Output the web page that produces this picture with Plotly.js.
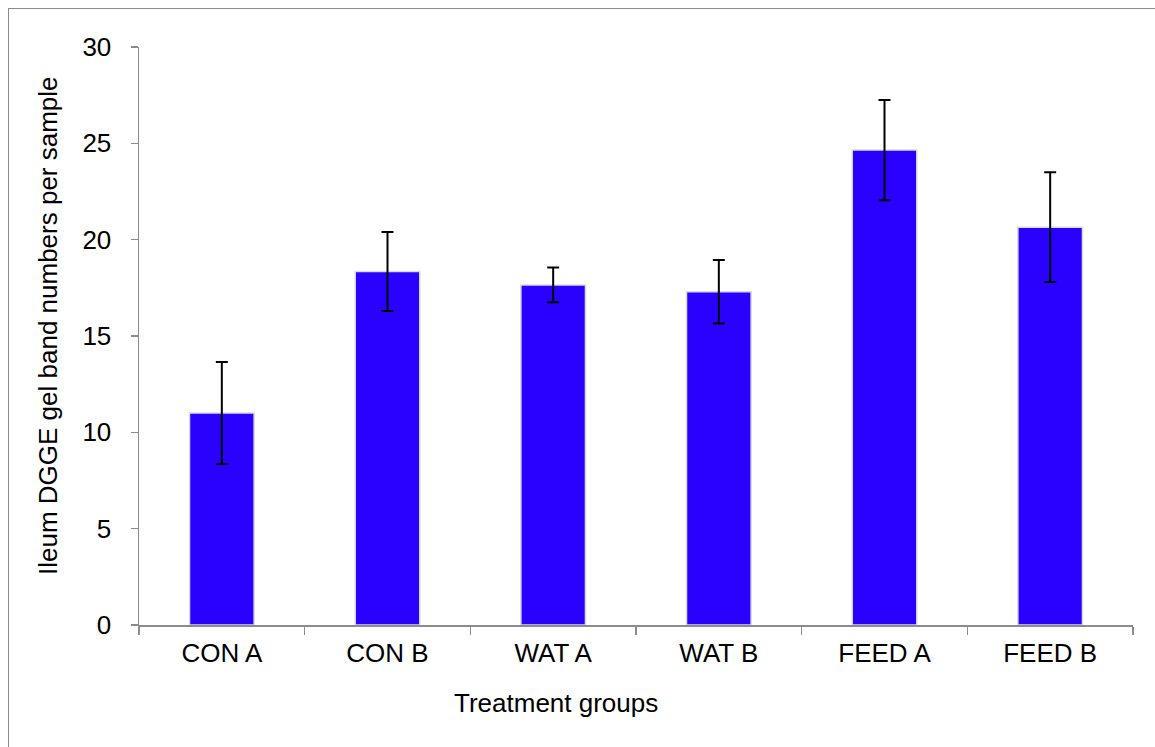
<!DOCTYPE html>
<html>
<head>
<meta charset="utf-8">
<script src="https://cdn.plot.ly/plotly-3.0.1.min.js"></script>
<style>
html,body{margin:0;padding:0;background:#fff;overflow:hidden;}
#wrap{position:relative;width:1155px;height:747px;}
#chart{width:1155px;height:747px;}
#frame{position:absolute;left:8px;top:8px;width:1160px;height:760px;border:1px solid #8c8c8c;pointer-events:none;}
</style>
</head>
<body>
<div id="wrap"><div id="chart"></div><div id="frame"></div></div>
<script>
const categories = ["CON A", "CON B", "WAT A", "WAT B", "FEED A", "FEED B"];
const bandNumbers = [11.0, 18.35, 17.65, 17.3, 24.65, 20.65];
const errorValues = [2.65, 2.05, 0.9, 1.65, 2.6, 2.85];
const yTickVals = [0, 5, 10, 15, 20, 25, 30];
const xTitle = "Treatment groups";
const yTitle = "Ileum DGGE gel band numbers per sample";

const font = "Liberation Sans, Arial, sans-serif";
const fs = 26;
const trace = {
  type: "bar",
  x: categories,
  y: bandNumbers,
  width: 0.39,
  marker: {color: "#2a00ff", line: {color: "#dcdcdc", width: 1.5}},
  error_y: {type: "data", array: errorValues, visible: true, color: "#000", thickness: 2, width: 6},
  hoverinfo: "x+y"
};
const layout = {
  width: 1155, height: 747,
  margin: {l: 139, r: 22, t: 47, b: 122},
  paper_bgcolor: "#fff", plot_bgcolor: "#fff",
  showlegend: false,
  font: {family: font, size: fs, color: "#000"},
  bargap: 0.61,
  xaxis: {
    type: "category",
    tickson: "boundaries",
    ticks: "outside", ticklen: 8, tickwidth: 1.5, tickcolor: "#8c8c8c",
    showline: true, linecolor: "#8c8c8c", linewidth: 1.5,
    showgrid: false, zeroline: false,
    tickfont: {family: font, size: fs, color: "#000"},
    ticklabelstandoff: 4
  },
  yaxis: {
    range: [0, 30],
    tickvals: yTickVals,
    ticktext: yTickVals.map(String),
    ticks: "outside", ticklen: 7, tickwidth: 1.5, tickcolor: "#8c8c8c",
    showline: true, linecolor: "#8c8c8c", linewidth: 1.5,
    showgrid: false, zeroline: false,
    tickfont: {family: font, size: fs, color: "#000"},
    ticklabelstandoff: 14
  },
  annotations: [
    {text: xTitle, xref: "paper", yref: "paper", x: (556 - 139) / 994, y: -78 / 578, xanchor: "center", yanchor: "middle", showarrow: false, font: {family: font, size: fs, color: "#000"}},
    {text: yTitle, xref: "paper", yref: "paper", x: -91 / 994, y: (625 - 326) / 578, xanchor: "center", yanchor: "middle", textangle: -90, showarrow: false, font: {family: font, size: fs, color: "#000"}}
  ]
};
Plotly.newPlot("chart", [trace], layout, {displayModeBar: false, staticPlot: true});
</script>
</body>
</html>
